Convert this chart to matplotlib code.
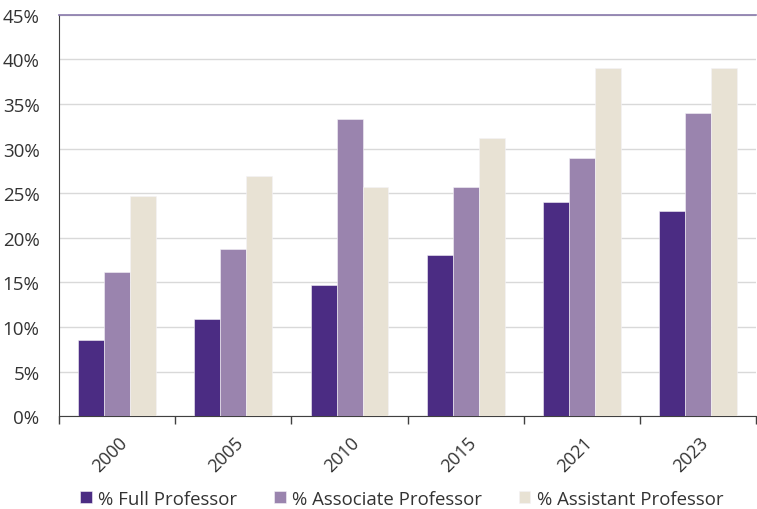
import matplotlib.pyplot as plt
import numpy as np
from matplotlib.ticker import FuncFormatter, MultipleLocator

plt.rcParams['font.family'] = ['Open Sans', 'DejaVu Sans']

years = ['2000', '2005', '2010', '2015', '2021', '2023']
full_prof = [8.5, 10.9, 14.7, 18.1, 24.0, 23.0]
assoc_prof = [16.2, 18.7, 33.3, 25.7, 29.0, 34.0]
assist_prof = [24.7, 26.9, 25.7, 31.2, 39.0, 39.0]

series = [
    ('% Full Professor', full_prof, '#4b2c83'),
    ('% Associate Professor', assoc_prof, '#9a84ae'),
    ('% Assistant Professor', assist_prof, '#e8e2d4'),
]

fig = plt.figure(figsize=(7.57, 5.10), dpi=100)
ax = fig.add_axes([0.078, 0.182, 0.921, 0.787])

x = np.arange(len(years))
w = 0.223
for i, (name, vals, col) in enumerate(series):
    ax.bar(x + (i - 1) * w, vals, w, color=col, label=name, zorder=3,
           edgecolor='#f4f2f7', linewidth=0.4)

ax.set_xlim(-0.5, len(years) - 0.5)
ax.set_ylim(0, 45)
ax.yaxis.set_major_locator(MultipleLocator(5))
ax.yaxis.set_major_formatter(FuncFormatter(lambda v, p: f'{v:.0f}%'))
ax.grid(axis='y', color='#d9d9d9', linewidth=1, zorder=0)

ax.set_xticks(x + 0.01)
ax.set_xticklabels(years, rotation=45, ha='right', rotation_mode='anchor')
ax.set_xticks(np.arange(len(years) + 1) - 0.5, minor=True)
ax.tick_params(axis='x', which='major', length=0, labelsize=13, colors='#333333', pad=12)
ax.tick_params(axis='x', which='minor', length=6, color='#404040', width=1)
ax.tick_params(axis='y', length=0, labelsize=13.5, labelcolor='#333333', pad=14)

ax.spines['right'].set_visible(False)
ax.spines['top'].set_color('#8878aa')
ax.spines['top'].set_linewidth(1.2)
ax.spines['left'].set_color('#404040')
ax.spines['bottom'].set_color('#404040')

fig.legend(loc='lower center', bbox_to_anchor=(0.531, -0.03), ncol=3, frameon=False,
           fontsize=13.4, handlelength=0.6, handleheight=0.6, handletextpad=0.35,
           columnspacing=2.0, labelcolor='#333333')

fig.savefig('out.png', dpi=100)
